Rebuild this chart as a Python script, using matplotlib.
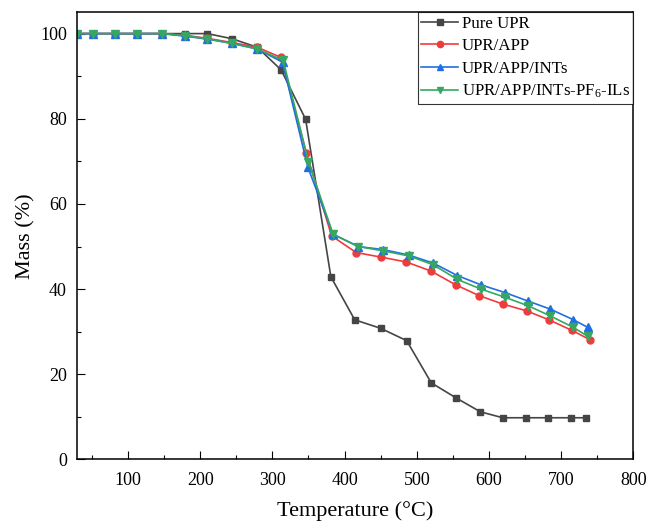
"""TGA curves of UPR composites."""

import matplotlib

matplotlib.use("Agg")
import matplotlib.pyplot as plt
from matplotlib.ticker import MultipleLocator

plt.rcParams["font.family"] = ["Liberation Serif", "DejaVu Serif"]
plt.rcParams["mathtext.fontset"] = "custom"
plt.rcParams["mathtext.rm"] = "Liberation Serif"
plt.rcParams["mathtext.it"] = "Liberation Serif:italic"

# data
temp_pure = [30, 51, 82, 113, 147, 179, 210, 244, 279, 312, 346, 381, 414, 450,
             486, 520, 554, 588, 619, 651, 682, 713, 735]
mass_pure = [100, 100, 100, 100, 100, 100, 100, 98.8, 96.8, 91.5, 79.9, 42.9, 32.8,
             30.8, 27.9, 18.0, 14.5, 11.2, 9.8, 9.8, 9.8, 9.8, 9.8]

temp_app = [30, 51, 82, 113, 147, 179, 210, 244, 279, 312, 347, 382, 416, 451,
            485, 519, 554, 586, 619, 652, 683, 715, 740]
mass_app = [100, 100, 100, 100, 100, 99.6, 98.9, 97.9, 96.8, 94.4, 72.0, 52.5, 48.6,
            47.5, 46.4, 44.3, 41.0, 38.5, 36.5, 34.9, 32.8, 30.3, 28.1]

temp_ints = [30, 51, 82, 113, 147, 179, 210, 244, 279, 314, 349, 384, 419, 453,
             489, 523, 556, 589, 622, 654, 685, 717, 737]
mass_ints = [100, 100, 100, 100, 100, 99.4, 98.7, 97.7, 96.4, 93.3, 68.7, 52.9, 50.0,
             49.3, 48.0, 46.1, 43.2, 41.0, 39.2, 37.2, 35.3, 32.8, 31.0]

temp_ils = [30, 51, 82, 113, 147, 179, 210, 244, 279, 315, 350, 384, 419, 453,
            489, 523, 556, 589, 622, 654, 685, 717, 737]
mass_ils = [100, 100, 100, 100, 100, 99.5, 98.8, 97.7, 96.4, 93.7, 69.9, 52.9, 50.0,
            49.0, 47.8, 45.7, 42.3, 40.0, 38.1, 36.1, 33.7, 31.0, 28.9]

series = [
    (temp_pure, mass_pure, "Pure UPR", "#454545", "s", 4.5),
    (temp_app, mass_app, "UPR/APP", "#ee3c3c", "o", 5),
    (temp_ints, mass_ints, "UPR/APP/INTs", "#1e6fe3", "^", 5.5),
    (temp_ils, mass_ils, "UPR/APP/INTs-PF$_6$-ILs", "#34a862", "v", 5.5),
]

fig = plt.figure(figsize=(6.49, 5.24), dpi=100)
ax = fig.add_axes([0.1182, 0.1231, 0.8578, 0.8534])

for x, y, label, color, marker, ms in series:
    ax.plot(x, y, color=color, marker=marker, markersize=ms, linewidth=1.2,
            label=label)

ax.set_xlim(29, 800)
ax.set_ylim(0, 105)
ax.xaxis.set_major_locator(MultipleLocator(100))
ax.xaxis.set_minor_locator(MultipleLocator(50))
ax.yaxis.set_major_locator(MultipleLocator(20))
ax.yaxis.set_minor_locator(MultipleLocator(10))
ax.tick_params(which="both", direction="in", top=False, right=False, width=0.8,
               labelsize=13)
ax.tick_params(which="major", length=6)
ax.tick_params(which="minor", length=3.2)
ax.tick_params(axis="x", pad=9)
ax.tick_params(axis="y", pad=7)
for spine in ax.spines.values():
    spine.set_linewidth(1.1)

ax.set_xlabel("Temperature (°C)", fontsize=16, labelpad=9)
ax.set_ylabel("Mass (%)", fontsize=16, labelpad=3)

leg = ax.legend(loc="upper right", borderaxespad=0, fontsize=12.2, frameon=True,
                fancybox=False, edgecolor="black", handlelength=2.2,
                handletextpad=0.2, labelspacing=0.38, borderpad=0.2,
                markerscale=0.9)
leg.get_frame().set_linewidth(0.8)

fig.savefig("out.png", dpi=100)
